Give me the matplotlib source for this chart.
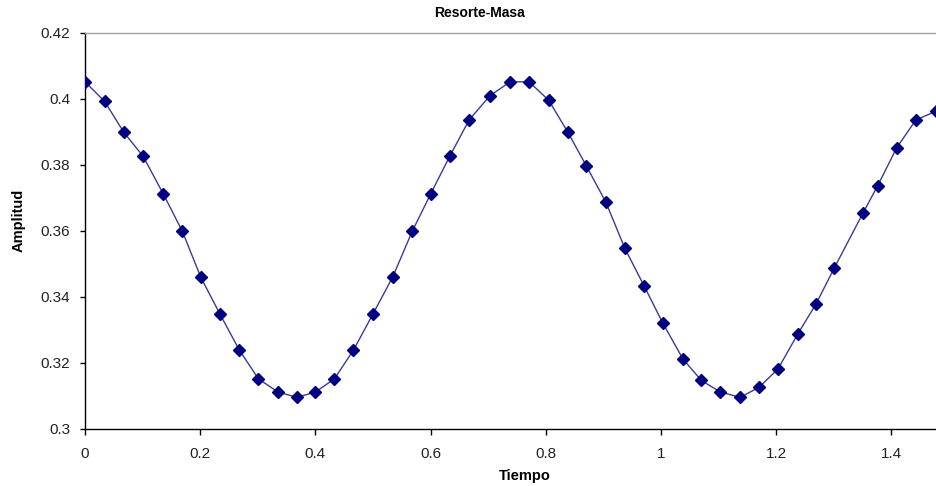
import matplotlib
matplotlib.use("Agg")
import matplotlib.pyplot as plt

plt.rcParams['font.family'] = ['Liberation Sans', 'DejaVu Sans']

tiempo = [0.000, 0.034, 0.067, 0.101, 0.136, 0.169, 0.201, 0.234, 0.268, 0.301,
          0.335, 0.368, 0.400, 0.433, 0.466, 0.500, 0.534, 0.568, 0.600, 0.633,
          0.667, 0.703, 0.738, 0.771, 0.805, 0.838, 0.870, 0.904, 0.937, 0.971,
          1.003, 1.038, 1.070, 1.103, 1.137, 1.170, 1.203, 1.237, 1.269, 1.301,
          1.351, 1.376, 1.409, 1.442, 1.477]
amplitud = [0.4052, 0.3993, 0.3900, 0.3826, 0.3712, 0.3599, 0.3460, 0.3349, 0.3239, 0.3152,
            0.3112, 0.3096, 0.3112, 0.3152, 0.3239, 0.3349, 0.3460, 0.3599, 0.3712, 0.3826,
            0.3937, 0.4010, 0.4052, 0.4052, 0.3996, 0.3900, 0.3798, 0.3688, 0.3548, 0.3432,
            0.3321, 0.3212, 0.3147, 0.3112, 0.3096, 0.3126, 0.3182, 0.3287, 0.3379, 0.3489,
            0.3656, 0.3737, 0.3852, 0.3936, 0.3963]

xticks = [0, 0.2, 0.4, 0.6, 0.8, 1.0, 1.2, 1.4]
xticklabels = ["0", "0.2", "0.4", "0.6", "0.8", "1", "1.2", "1.4"]
yticks = [0.30, 0.32, 0.34, 0.36, 0.38, 0.40, 0.42]
yticklabels = ["0.3", "0.32", "0.34", "0.36", "0.38", "0.4", "0.42"]

W, H = 937, 486
fig = plt.figure(figsize=(W / 100, H / 100), dpi=100)
fig.patch.set_facecolor('white')
left, right, top, bottom = 85, 937, 33, 429
ax = fig.add_axes([left / W, 1 - bottom / H, (right - left) / W, (bottom - top) / H])

ax.plot(tiempo, amplitud, color='#3a3a9c', linewidth=1.0, zorder=2)
ax.plot(tiempo, amplitud, linestyle='none', marker='D', markersize=6.5,
        markerfacecolor='#000080', markeredgecolor='#000080', zorder=3)

ax.set_xlim(0, 1.479)
ax.set_ylim(0.30, 0.42)
ax.set_xticks(xticks)
ax.set_xticklabels(xticklabels)
ax.set_yticks(yticks)
ax.set_yticklabels(yticklabels)

ax.spines['right'].set_visible(False)
ax.spines['top'].set_color('#a0a0a0')
ax.spines['top'].set_linewidth(1.0)
ax.spines['left'].set_color('#000000')
ax.spines['bottom'].set_color('#000000')
ax.spines['left'].set_linewidth(1.0)
ax.spines['bottom'].set_linewidth(1.0)

ax.tick_params(axis='x', direction='out', length=4, width=1, pad=9,
               labelsize=11, colors='#000000', labelcolor='#222222')
ax.tick_params(axis='y', direction='out', length=3.5, width=1, pad=7,
               labelsize=11, colors='#000000', labelcolor='#222222')

fig.text(480 / W, 1 - 13 / H, 'Resorte-Masa', ha='center', va='center',
         fontsize=10, fontweight='bold')
fig.text(525 / W, 1 - 476 / H, 'Tiempo', ha='center', va='center',
         fontsize=10.5, fontweight='bold')
fig.text(19 / W, 1 - 220 / H, 'Amplitud', ha='center', va='center',
         rotation=90, fontsize=10.5, fontweight='bold')

fig.savefig('out.png', dpi=100, facecolor='white')
